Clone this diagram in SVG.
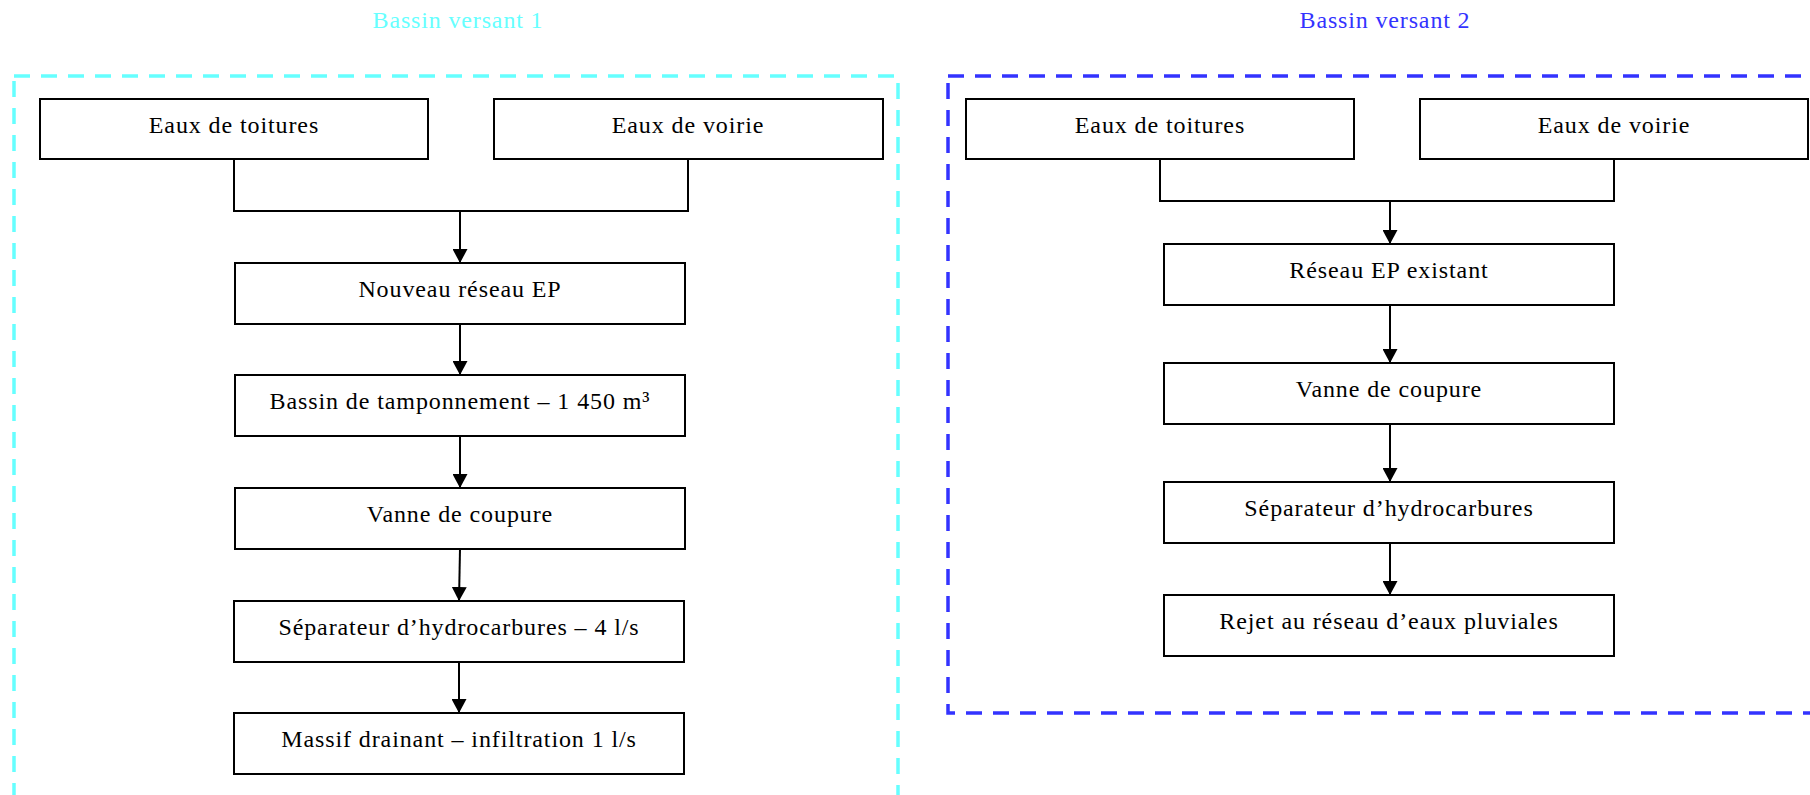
<svg xmlns="http://www.w3.org/2000/svg" width="1810" height="795" viewBox="0 0 1810 795">
  <defs>
    <marker id="arrow" viewBox="0 0 14 15" refX="14" refY="7.5" markerWidth="14" markerHeight="15" markerUnits="userSpaceOnUse" orient="auto">
      <path d="M0,0 L14,7.5 L0,15 Z" fill="#000"/>
    </marker>
  </defs>
  <style>
    .node rect { fill: #fff; stroke: #000; stroke-width: 2; }
    .node text { font-family: "Liberation Serif", "Times New Roman", serif; font-size: 24px; letter-spacing: 0.9px; fill: #000; text-anchor: middle; }
    .zone { fill: none; stroke-width: 3.5; stroke-dasharray: 16 11; }
    .title { font-family: "Liberation Serif", "Times New Roman", serif; font-size: 24px; letter-spacing: 0.85px; text-anchor: middle; }
    .link { fill: none; stroke: #000; stroke-width: 2; }
    .flow { fill: none; stroke: #000; stroke-width: 2; marker-end: url(#arrow); }
  </style>

  <rect width="1810" height="795" fill="#fff"/>

  <!-- catchment zones -->
  <g id="zone-bv1">
    <text class="title" x="458" y="28" fill="#66FFFF">Bassin versant 1</text>
    <rect class="zone" x="14" y="76" width="884" height="760" stroke="#66FFFF"/>
  </g>
  <g id="zone-bv2">
    <text class="title" x="1385" y="28" fill="#3333FF">Bassin versant 2</text>
    <rect class="zone" x="948" y="76" width="900" height="637" stroke="#3333FF"/>
  </g>

  <!-- connectors -->
  <g id="connectors">
    <!-- catchment 1 -->
    <polyline class="link" points="234,159 234,211 688,211 688,159"/>
    <line class="flow" x1="460" y1="211" x2="460" y2="263"/>
    <line class="flow" x1="460" y1="324" x2="460" y2="375"/>
    <line class="flow" x1="460" y1="436" x2="460" y2="488"/>
    <line class="flow" x1="460" y1="549" x2="459" y2="601"/>
    <line class="flow" x1="459" y1="662" x2="459" y2="713"/>
    <!-- catchment 2 -->
    <polyline class="link" points="1160,159 1160,201 1614,201 1614,159"/>
    <line class="flow" x1="1390" y1="201" x2="1390" y2="244"/>
    <line class="flow" x1="1390" y1="305" x2="1390" y2="363"/>
    <line class="flow" x1="1390" y1="424" x2="1390" y2="482"/>
    <line class="flow" x1="1390" y1="543" x2="1390" y2="595"/>
  </g>

  <!-- catchment 1 nodes -->
  <g id="bv1-toitures" class="node">
    <rect x="40" y="99" width="388" height="60"/>
    <text x="234" y="133">Eaux de toitures</text>
  </g>
  <g id="bv1-voirie" class="node">
    <rect x="494" y="99" width="389" height="60"/>
    <text x="688" y="133">Eaux de voirie</text>
  </g>
  <g id="bv1-reseau" class="node">
    <rect x="235" y="263" width="450" height="61"/>
    <text x="460" y="297">Nouveau réseau EP</text>
  </g>
  <g id="bv1-bassin" class="node">
    <rect x="235" y="375" width="450" height="61"/>
    <text x="460" y="409">Bassin de tamponnement – 1 450 m³</text>
  </g>
  <g id="bv1-vanne" class="node">
    <rect x="235" y="488" width="450" height="61"/>
    <text x="460" y="522">Vanne de coupure</text>
  </g>
  <g id="bv1-separateur" class="node">
    <rect x="234" y="601" width="450" height="61"/>
    <text x="459" y="635">Séparateur d’hydrocarbures – 4 l/s</text>
  </g>
  <g id="bv1-massif" class="node">
    <rect x="234" y="713" width="450" height="61"/>
    <text x="459" y="747">Massif drainant – infiltration 1 l/s</text>
  </g>

  <!-- catchment 2 nodes -->
  <g id="bv2-toitures" class="node">
    <rect x="966" y="99" width="388" height="60"/>
    <text x="1160" y="133">Eaux de toitures</text>
  </g>
  <g id="bv2-voirie" class="node">
    <rect x="1420" y="99" width="388" height="60"/>
    <text x="1614" y="133">Eaux de voirie</text>
  </g>
  <g id="bv2-reseau" class="node">
    <rect x="1164" y="244" width="450" height="61"/>
    <text x="1389" y="278">Réseau EP existant</text>
  </g>
  <g id="bv2-vanne" class="node">
    <rect x="1164" y="363" width="450" height="61"/>
    <text x="1389" y="397">Vanne de coupure</text>
  </g>
  <g id="bv2-separateur" class="node">
    <rect x="1164" y="482" width="450" height="61"/>
    <text x="1389" y="516">Séparateur d’hydrocarbures</text>
  </g>
  <g id="bv2-rejet" class="node">
    <rect x="1164" y="595" width="450" height="61"/>
    <text x="1389" y="629">Rejet au réseau d’eaux pluviales</text>
  </g>
</svg>
